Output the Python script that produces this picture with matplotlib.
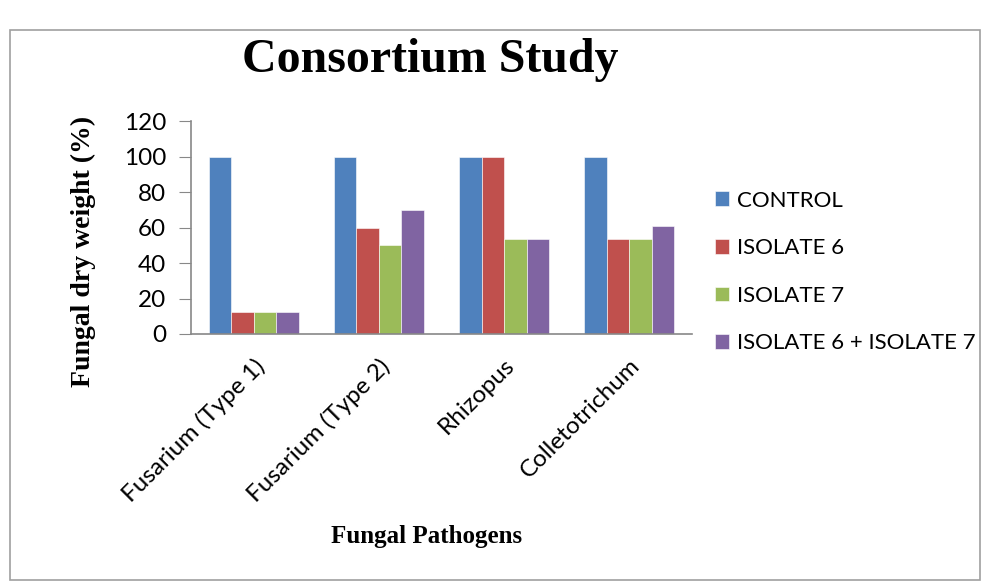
import matplotlib
matplotlib.use('Agg')
import matplotlib.pyplot as plt
import matplotlib.transforms as mtransforms
import numpy as np
from matplotlib.patches import Rectangle

pathogens = ['Fusarium (Type 1)', 'Fusarium (Type 2)', 'Rhizopus', 'Colletotrichum']
control = [100, 100, 100, 100]
isolate6 = [12.5, 60, 100, 53.5]
isolate7 = [12.5, 50, 53.5, 53.5]
isolate6_7 = [12.5, 70, 53.5, 61]

series = [
    ('CONTROL', control, '#4f81bd'),
    ('ISOLATE 6', isolate6, '#c0504d'),
    ('ISOLATE 7', isolate7, '#9bbb59'),
    ('ISOLATE 6 + ISOLATE 7', isolate6_7, '#8064a2'),
]

sans = 'Lato'
serif = 'Liberation Serif'

fig = plt.figure(figsize=(9.82, 5.81), dpi=100)
fig.patches.append(Rectangle((10/982, 0.002), 970/982, 550/581, transform=fig.transFigure,
                             fill=False, edgecolor='#a0a0a0', linewidth=1.2))

ax = fig.add_axes([191/982, 247/581, 501/982, 213/581])

x = np.arange(len(pathogens))
width = 0.18
for i, (name, vals, color) in enumerate(series):
    ax.bar(x + (i - 1.5) * width, vals, width, label=name, color=color,
           edgecolor='white', linewidth=0.4)

ax.set_xlim(-0.5, len(pathogens) - 0.5)
ax.set_ylim(0, 120)
ax.set_yticks(range(0, 121, 20))
ax.set_yticklabels([str(v) for v in range(0, 121, 20)], fontfamily=sans, fontsize=17.5)
ax.set_xticks(x)
ax.set_xticklabels(pathogens, rotation=45, ha='right', rotation_mode='anchor',
                   fontfamily=sans, fontsize=17.5)
shift = mtransforms.ScaledTranslation(-9/100, 0, fig.dpi_scale_trans)
for lbl in ax.get_xticklabels():
    lbl.set_transform(lbl.get_transform() + shift)
ax.tick_params(axis='x', which='major', length=0, pad=15)
ax.tick_params(axis='y', length=9, color='#888888', pad=9)

for s in ['top', 'right']:
    ax.spines[s].set_visible(False)
for s in ['left', 'bottom']:
    ax.spines[s].set_color('#888888')
    ax.spines[s].set_linewidth(1.2)

fig.text(83/982, 1 - 251/581, 'Fungal dry weight (%)', fontfamily=serif, fontweight='bold',
         fontsize=20, rotation=90, ha='center', va='center')
fig.text(427/982, 1 - 537/581, 'Fungal Pathogens', fontfamily=serif, fontweight='bold',
         fontsize=18, ha='center', va='center')
fig.text(430/982, 1 - 60/581, 'Consortium Study', fontfamily=serif, fontweight='bold',
         fontsize=34.5, ha='center', va='center')

ax.legend(loc='center left', bbox_to_anchor=(715/982, 1 - 272/581), bbox_transform=fig.transFigure,
          frameon=False, prop={'family': sans, 'size': 16}, handlelength=0.65, handleheight=0.65,
          handletextpad=0.36, labelspacing=1.24, borderpad=0, borderaxespad=0)

plt.savefig('out.png', dpi=100)
plt.close()
